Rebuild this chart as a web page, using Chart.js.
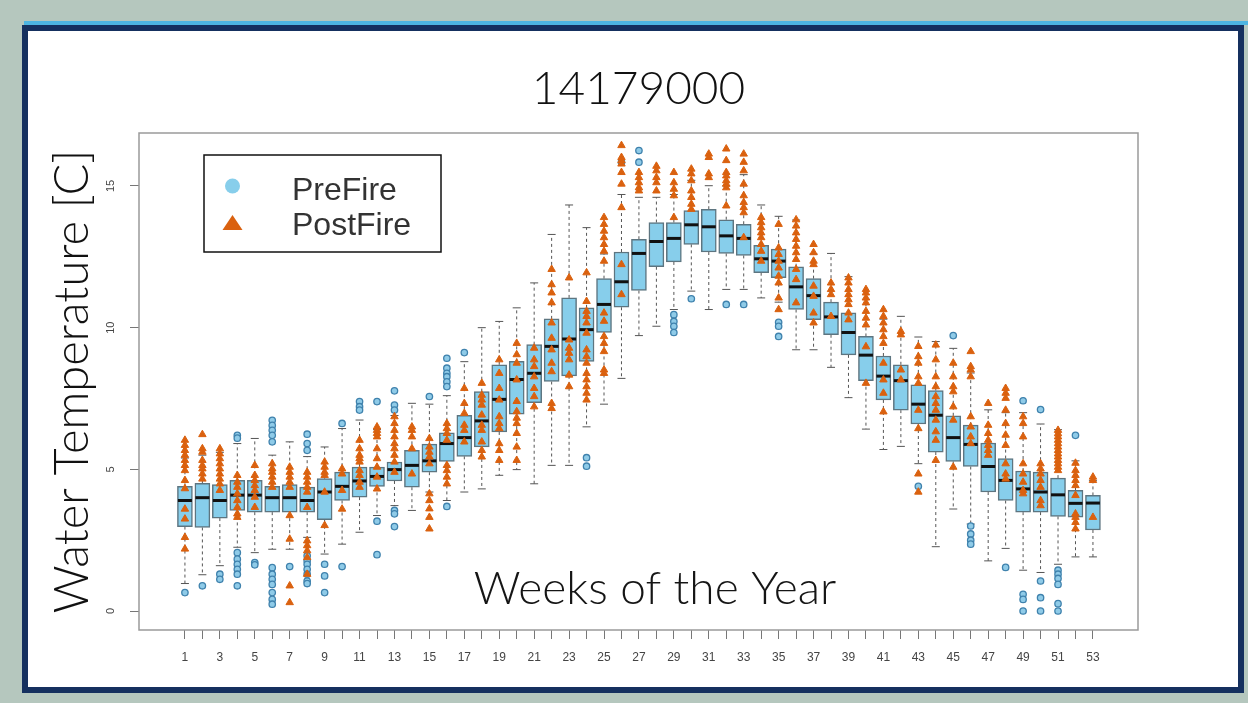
<!DOCTYPE html>
<html>
<head>
<meta charset="utf-8">
<title>14179000</title>
<script src="https://cdn.jsdelivr.net/npm/chart.js@4.4.1/dist/chart.umd.min.js"></script>
<style>
  html, body { margin: 0; padding: 0; }
  body { width: 1248px; height: 703px; background: #b5c7be; position: relative; overflow: hidden; }
  #strip { position: absolute; left: 24px; top: 21px; width: 1224px; height: 4px; background: #4db5e2; }
  #panel { position: absolute; left: 22px; top: 25px; width: 1222px; height: 668px; box-sizing: border-box; border: 6px solid #15305f; background: #fff; }
  #chart { position: absolute; left: 0; top: 0; }
</style>
</head>
<body>
<div id="strip"></div>
<div id="panel"></div>
<canvas id="chart" width="1248" height="703"></canvas>
<script>
// Weeks of the year (x categories)
const weeks = [1, 2, 3, 4, 5, 6, 7, 8, 9, 10, 11, 12, 13, 14, 15, 16, 17, 18, 19, 20,
    21, 22, 23, 24, 25, 26, 27, 28, 29, 30, 31, 32, 33, 34, 35, 36, 37, 38, 39, 40,
    41, 42, 43, 44, 45, 46, 47, 48, 49, 50, 51, 52, 53];

// Box plot statistics per week
const boxLow = [2.98, 2.95, 3.28, 3.55, 3.49, 3.49, 3.49, 3.49, 3.22, 3.90,
    4.02, 4.40, 4.59, 4.37, 4.90, 5.28, 5.46, 5.79, 6.32, 6.95,
    7.35, 8.10, 8.30, 8.81, 9.83, 10.72, 11.31, 12.15, 12.32, 12.94,
    12.67, 12.62, 12.55, 11.94, 11.76, 10.64, 10.28, 9.75, 9.04, 8.13,
    7.45, 7.09, 6.60, 5.61, 5.28, 5.10, 4.20, 3.90, 3.49, 3.49,
    3.34, 3.31, 2.86];
const boxMedian = [3.90, 4.00, 3.90, 4.09, 4.09, 4.00, 4.00, 3.90, 4.20, 4.40,
    4.59, 4.75, 4.99, 5.14, 5.30, 5.91, 6.12, 6.71, 7.47, 8.17,
    8.39, 9.34, 9.60, 9.93, 10.82, 11.62, 12.62, 13.04, 13.15, 13.63,
    13.56, 13.24, 13.15, 12.43, 12.35, 11.44, 11.13, 10.38, 9.83, 9.03,
    8.29, 8.13, 7.30, 6.91, 6.12, 5.88, 5.10, 4.61, 4.31, 4.20,
    4.10, 3.80, 3.81];
const boxHigh = [4.40, 4.51, 4.46, 4.61, 4.61, 4.40, 4.46, 4.37, 4.67, 4.90,
    5.08, 5.08, 5.26, 5.67, 5.89, 6.29, 6.91, 7.74, 8.69, 8.81,
    9.40, 10.31, 11.05, 10.70, 11.73, 12.67, 13.12, 13.71, 13.71, 14.13,
    14.18, 13.81, 13.65, 12.91, 12.77, 12.15, 11.73, 10.90, 10.52, 9.69,
    9.00, 8.69, 7.98, 7.78, 6.89, 6.56, 5.93, 5.38, 4.94, 4.90,
    4.69, 4.26, 4.08];
const whiskerLow = [0.97, 1.28, 1.60, 2.25, 2.06, 2.18, 2.18, 2.60, 2.01, 2.36,
    2.78, 3.37, 3.72, 3.55, 4.20, 3.90, 4.20, 4.31, 4.79, 4.99,
    4.49, 5.14, 5.14, 6.50, 7.30, 8.21, 9.72, 10.05, 10.64, 11.29,
    10.64, 11.35, 11.35, 11.05, 10.90, 9.22, 9.22, 8.60, 7.53, 6.42,
    5.70, 5.81, 5.20, 2.27, 3.60, 3.07, 1.77, 2.21, 1.44, 1.36,
    1.65, 1.91, 1.91];
const whiskerHigh = [5.40, 5.50, 5.60, 5.91, 6.09, 5.50, 5.97, 5.45, 5.79, 6.44,
    6.74, 6.40, 6.90, 7.33, 7.30, 7.60, 8.80, 10.00, 10.22, 10.70,
    11.58, 13.29, 14.33, 13.53, 12.60, 14.70, 14.60, 14.60, 14.70, 15.20,
    15.01, 15.00, 15.40, 14.33, 13.93, 13.80, 12.60, 12.62, 11.80, 11.00,
    10.30, 10.40, 9.67, 9.51, 9.27, 8.40, 7.10, 7.00, 7.00, 6.60,
    6.40, 5.30, 4.60];

// PreFire outliers (blue circles), one list per week
const preFireOutliers = [
    [0.65], [0.89], [1.30, 1.12],
    [6.20, 6.10, 2.06, 1.83, 1.65, 1.47, 1.30, 0.89],
    [1.71, 1.63],
    [6.73, 6.55, 6.38, 6.20, 5.97, 1.53, 1.30, 1.12, 0.94, 0.65, 0.41, 0.24],
    [1.57],
    [6.24, 5.91, 5.67, 1.95, 1.77, 1.65, 1.47, 1.30, 1.06, 0.97],
    [1.65, 1.24, 0.65],
    [6.62, 1.57],
    [7.39, 7.21, 7.09],
    [7.39, 3.17, 1.99],
    [7.77, 7.27, 7.09, 3.55, 3.43, 2.98],
    [],
    [7.57],
    [8.92, 8.57, 8.39, 8.27, 8.09, 7.92, 3.69],
    [9.12],
    [], [], [], [], [], [],
    [5.41, 5.11],
    [],
    [15.84],
    [16.25, 15.84],
    [],
    [10.46, 10.22, 10.05, 9.83],
    [11.02],
    [],
    [10.82],
    [10.82],
    [],
    [10.19, 10.05, 9.69],
    [], [], [], [], [], [], [],
    [4.40],
    [],
    [9.72],
    [3.00, 2.72, 2.50, 2.36],
    [],
    [1.54],
    [7.42, 0.59, 0.41, 0.00],
    [7.11, 1.06, 0.47, 0.00],
    [1.44, 1.30, 1.15, 0.94, 0.26, 0.00],
    [6.20],
    []
];

// PostFire observations (orange triangles), one list per week
const postFirePoints = [
    [6.03, 5.85, 5.67, 5.50, 5.32, 5.14, 4.96, 4.61, 4.32, 3.60, 3.25, 2.60, 2.19],
    [6.23, 5.73, 5.61, 5.32, 5.14, 5.02, 4.84, 4.66],
    [5.73, 5.55, 5.38, 5.20, 5.02, 4.84, 4.66, 4.49, 4.26],
    [4.79, 4.55, 4.37, 4.14, 3.90, 3.66, 3.43, 3.31],
    [5.14, 4.79, 4.61, 4.43, 4.26, 4.02, 3.66],
    [5.20, 5.02, 4.90, 4.73, 4.55, 4.37],
    [5.08, 4.90, 4.73, 4.55, 4.37, 3.37, 2.54, 0.89, 0.30],
    [4.90, 4.73, 4.55, 4.37, 4.20, 3.66, 2.48, 2.31, 2.13, 1.89, 1.30],
    [5.26, 5.08, 4.90, 4.79, 4.20, 3.02],
    [5.02, 4.84, 4.26, 3.60],
    [6.03, 5.73, 5.50, 5.38, 5.26, 4.96, 4.79, 4.55, 4.37],
    [6.50, 6.38, 6.27, 6.15, 5.73, 5.38, 5.08, 4.73, 4.31],
    [6.86, 6.62, 6.38, 6.15, 5.91, 5.73, 5.50, 5.26, 4.90],
    [6.50, 6.38, 6.15, 5.73, 4.84],
    [6.09, 5.79, 5.61, 5.44, 5.20, 4.14, 3.90, 3.61, 3.31, 2.90],
    [6.62, 6.44, 6.27, 6.03, 5.14, 4.96, 4.73, 4.49],
    [7.86, 7.33, 6.98, 6.56, 6.38, 5.97],
    [8.04, 7.62, 7.45, 7.27, 6.92, 6.56, 6.38, 5.97, 5.67, 5.44],
    [8.87, 8.39, 7.86, 7.45, 6.86, 6.62, 6.44, 5.91, 5.67, 5.32],
    [9.45, 9.05, 8.75, 8.16, 7.40, 7.04, 6.81, 6.62, 6.27, 5.79, 5.32],
    [9.28, 8.87, 8.63, 8.27, 7.86, 7.57, 7.21],
    [12.06, 11.52, 11.23, 10.88, 10.17, 9.63, 9.22, 8.75, 8.45, 7.33, 7.15],
    [11.76, 9.57, 9.28, 9.10, 8.87, 8.33, 7.92],
    [11.94, 10.93, 10.58, 10.40, 10.17, 9.81, 9.22, 8.98, 8.75, 8.39, 8.16, 7.92, 7.69, 7.45],
    [13.89, 13.65, 13.41, 13.18, 12.94, 12.70, 12.35, 10.52, 10.23, 9.69, 9.45, 9.16, 8.51, 8.39],
    [16.43, 16.01, 15.90, 15.78, 15.48, 15.07, 14.24, 12.23, 11.17],
    [15.48, 15.30, 15.12, 14.94, 14.83],
    [15.70, 15.54, 15.30, 15.12, 14.83],
    [15.48, 15.12, 14.89, 14.66, 13.89],
    [15.60, 15.43, 15.19, 14.83, 14.60, 14.36, 14.18],
    [16.13, 16.01, 15.43, 15.30],
    [16.31, 15.90, 15.48, 15.36, 15.19, 15.07, 14.94, 14.30],
    [16.13, 15.84, 15.54, 15.07, 14.66, 14.42, 14.24, 14.06, 13.18],
    [13.89, 13.71, 13.53, 13.35, 13.18, 12.94, 12.70, 12.35],
    [13.65, 12.82, 12.59, 12.35, 12.11, 11.82, 11.58, 11.05, 10.64],
    [13.81, 13.59, 13.35, 13.12, 12.88, 12.65, 12.41, 12.06, 11.70, 10.88],
    [12.94, 12.65, 12.35, 12.23, 11.47, 11.11, 10.52, 10.17],
    [11.58, 11.35, 11.17, 10.40],
    [11.76, 11.58, 11.35, 11.17, 10.99, 10.82, 10.52, 10.28],
    [11.35, 11.23, 11.05, 10.88, 10.58, 10.34, 10.10, 9.33, 8.04],
    [10.64, 10.40, 10.17, 9.93, 9.69, 9.45, 8.75, 8.16, 7.69, 7.03],
    [9.87, 9.75, 8.51, 8.16],
    [9.34, 8.98, 8.75, 8.27, 8.04, 7.09, 6.44, 4.84, 4.20],
    [9.39, 8.87, 8.27, 7.92, 7.57, 7.33, 7.09, 6.74, 6.33, 6.03, 5.32],
    [8.75, 8.27, 7.92, 7.74, 7.21, 6.74, 5.08],
    [9.16, 8.63, 8.51, 8.27, 6.86, 6.50, 6.15, 5.91],
    [7.33, 6.56, 6.27, 6.03, 5.85, 5.67, 5.50],
    [7.86, 7.69, 7.51, 7.09, 6.62, 6.21, 5.85, 5.20, 4.84, 4.66],
    [6.86, 6.62, 6.15, 5.20, 4.84, 4.55, 4.26, 4.14],
    [5.20, 5.02, 4.84, 4.61, 4.37, 3.90, 3.72],
    [6.38, 6.26, 6.15, 6.03, 5.91, 5.79, 5.67, 5.55, 5.44, 5.32, 5.20, 5.08, 4.96],
    [5.22, 4.96, 4.79, 4.61, 4.43, 4.08, 3.43, 3.31, 3.13, 2.90],
    [4.73, 4.61, 3.31]
];

const yTicks = [0, 5, 10, 15];

const BOX_FILL = '#87ceeb';
const POST_COLOR = '#da610f';
const THIN_FONT = "Lato, 'Open Sans', sans-serif";

Chart.defaults.font.family = "'Liberation Sans', Arial, sans-serif";

// Whiskers, medians, plot frame, legend and inner x title
const boxPlotExtras = {
    id: 'boxPlotExtras',
    beforeDatasetsDraw(chart) {
        const { ctx, scales: { x, y } } = chart;
        ctx.save();
        ctx.strokeStyle = '#555';
        ctx.lineWidth = 1;
        weeks.forEach((w, i) => {
            const px = x.getPixelForValue(w);
            ctx.setLineDash([3, 3]);
            ctx.beginPath();
            ctx.moveTo(px, y.getPixelForValue(boxHigh[i]));
            ctx.lineTo(px, y.getPixelForValue(whiskerHigh[i]));
            ctx.moveTo(px, y.getPixelForValue(boxLow[i]));
            ctx.lineTo(px, y.getPixelForValue(whiskerLow[i]));
            ctx.stroke();
            ctx.setLineDash([]);
            ctx.beginPath();
            [whiskerHigh[i], whiskerLow[i]].forEach(v => {
                const py = y.getPixelForValue(v);
                ctx.moveTo(px - 4, py);
                ctx.lineTo(px + 4, py);
            });
            ctx.stroke();
        });
        ctx.restore();
    },
    afterDatasetDraw(chart, args) {
        if (args.index !== 0) return;
        const { ctx, scales: { x, y } } = chart;
        ctx.save();
        ctx.strokeStyle = '#111';
        ctx.lineWidth = 3;
        weeks.forEach((w, i) => {
            const px = x.getPixelForValue(w);
            const py = y.getPixelForValue(boxMedian[i]);
            ctx.beginPath();
            ctx.moveTo(px - 7, py);
            ctx.lineTo(px + 7, py);
            ctx.stroke();
        });
        ctx.restore();
    },
    afterDraw(chart) {
        const { ctx, chartArea: a } = chart;
        ctx.save();
        // plot frame
        ctx.strokeStyle = '#9a9a9a';
        ctx.lineWidth = 1.5;
        ctx.strokeRect(a.left, a.top, a.right - a.left, a.bottom - a.top);

        // x title drawn inside the plot
        ctx.fillStyle = '#151515';
        ctx.font = '300 46px ' + THIN_FONT;
        ctx.textAlign = 'center';
        ctx.textBaseline = 'alphabetic';
        ctx.fillText('Weeks of the Year', 655, 604);

        // legend box
        const lx = a.left + 65, ly = a.top + 22;
        ctx.strokeStyle = '#111';
        ctx.lineWidth = 1.5;
        ctx.strokeRect(lx, ly, 237, 97);
        ctx.fillStyle = BOX_FILL;
        ctx.beginPath();
        ctx.arc(lx + 28.5, ly + 31, 7.5, 0, Math.PI * 2);
        ctx.fill();
        ctx.fillStyle = POST_COLOR;
        ctx.beginPath();
        ctx.moveTo(lx + 28.5, ly + 60);
        ctx.lineTo(lx + 38.5, ly + 75);
        ctx.lineTo(lx + 18.5, ly + 75);
        ctx.closePath();
        ctx.fill();
        ctx.fillStyle = '#333';
        ctx.font = "32px 'Liberation Sans', Arial, sans-serif";
        ctx.textAlign = 'left';
        ctx.fillText(chart.data.datasets[1].label, lx + 88, ly + 45);
        ctx.fillText(chart.data.datasets[2].label, lx + 88, ly + 80);
        ctx.restore();
    }
};

const boxData = weeks.map((w, i) => ({ x: w, y: [boxLow[i], boxHigh[i]] }));
const preData = weeks.flatMap((w, i) => preFireOutliers[i].map(v => ({ x: w, y: v })));
const postData = weeks.flatMap((w, i) => postFirePoints[i].map(v => ({ x: w, y: v })));

const config = {
    type: 'bar',
    data: {
        datasets: [
            {
                type: 'bar',
                label: 'Weekly range',
                data: boxData,
                backgroundColor: BOX_FILL,
                borderColor: '#5d7580',
                borderWidth: 1.5,
                borderSkipped: false,
                barThickness: 15,
                order: 3
            },
            {
                type: 'scatter',
                label: 'PreFire',
                data: preData,
                pointStyle: 'circle',
                pointRadius: 3.2,
                backgroundColor: '#8fcbe8',
                borderColor: '#3f82ad',
                borderWidth: 1.3,
                order: 2
            },
            {
                type: 'scatter',
                label: 'PostFire',
                data: postData,
                pointStyle: 'triangle',
                pointRadius: 4.3,
                backgroundColor: POST_COLOR,
                borderColor: POST_COLOR,
                borderWidth: 1,
                order: 1
            }
        ]
    },
    options: {
        responsive: false,
        animation: false,
        events: [],
        devicePixelRatio: 1,
        layout: { padding: { left: 30, right: 110, top: 0, bottom: 33 } },
        plugins: {
            legend: { display: false },
            tooltip: { enabled: false },
            title: {
                display: true,
                text: '14179000',
                fullSize: false,
                color: '#111',
                font: { family: THIN_FONT, size: 46, weight: 300 },
                padding: { top: 61.4, bottom: 16.4 }
            }
        },
        scales: {
            x: {
                type: 'linear',
                min: -1.63,
                max: 55.58,
                offset: false,
                afterBuildTicks: scale => { scale.ticks = weeks.map(v => ({ value: v })); },
                afterFit: scale => { scale.height = 40; },
                border: { display: false },
                grid: { display: true, offset: false, drawOnChartArea: false, drawTicks: true, tickLength: 9, color: '#777' },
                ticks: {
                    autoSkip: false,
                    maxRotation: 0,
                    minRotation: 0,
                    padding: 11,
                    color: '#444',
                    font: { size: 12 },
                    callback: v => (v % 2 === 1 ? String(v) : '')
                }
            },
            y: {
                type: 'linear',
                min: -0.67,
                max: 16.87,
                afterBuildTicks: scale => { scale.ticks = yTicks.map(v => ({ value: v })); },
                afterFit: scale => { scale.width = 109; },
                border: { display: false },
                grid: { display: true, drawOnChartArea: false, drawTicks: true, tickLength: 9, color: '#777' },
                ticks: {
                    minRotation: 90,
                    maxRotation: 90,
                    crossAlign: 'center',
                    padding: 13,
                    color: '#444',
                    font: { size: 11 }
                },
                title: {
                    display: true,
                    text: 'Water Temperature [C]',
                    color: '#111',
                    font: { family: THIN_FONT, size: 47, weight: 300 },
                    padding: { top: 14.8, bottom: 0 }
                }
            }
        }
    },
    plugins: [boxPlotExtras]
};

new Chart(document.getElementById('chart'), config);
</script>
</body>
</html>
